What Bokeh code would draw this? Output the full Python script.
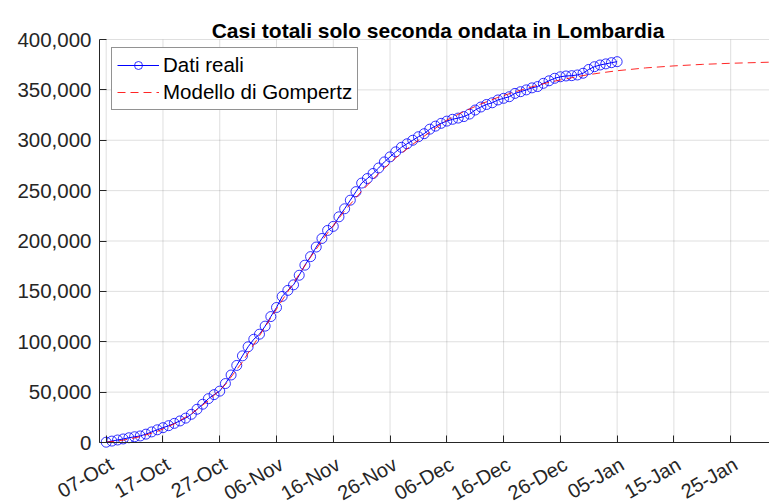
import math
from datetime import datetime, timedelta

from bokeh.plotting import figure
from bokeh.models import (ColumnDataSource, Range1d, FixedTicker, NumeralTickFormatter,
                          Legend, LegendItem, LabelSet, Label)
from bokeh.core.properties import value
from bokeh.embed import file_html
from bokeh.resources import INLINE

# ---------------- data ----------------
title_text = "Casi totali solo seconda ondata in Lombardia"
first_day = "2020-10-07"

# daily cumulative cases (07-Oct-2020 .. 05-Jan-2021)
real_cases = [
    300, 1400, 2500, 3500, 4700, 5700, 6500, 8300, 10500, 12600,
    14700, 16700, 19000, 21400, 24200, 28000, 33000, 38000, 43500, 47500,
    51000, 58500, 67000, 76500, 86000, 95000, 102500, 107500, 115500, 125000,
    134000, 145000, 151000, 156500, 166000, 176000, 184500, 194000, 202500, 210500,
    214500, 224000, 232000, 240500, 249000, 257500, 262000, 267000, 272500, 278500,
    283500, 288500, 293000, 296500, 300000, 303500, 306500, 311000, 314000, 316800,
    319000, 320800, 322000, 323500, 326000, 330000, 333000, 335500, 337200, 340000,
    341600, 343200, 346500, 348200, 350000, 352000, 353300, 356500, 359000, 361500,
    363000, 363800, 364100, 364800, 366500, 370300, 373000, 374700, 375800, 377000,
    378000,
]

# Gompertz model, sampled (days after 07-Oct)
model_days = [0, 3, 6, 9, 12, 15, 18, 21, 24, 27, 30, 33, 36, 39, 42, 45, 48, 51, 54, 57,
              60, 63, 66, 69, 72, 75, 78, 81, 84, 87, 90, 95, 100, 105, 110, 117]
model_cases = [300, 2300, 5800, 11000, 18500, 28500, 41500, 57500, 80000, 106000,
               132500, 158500, 184000, 208000, 230000, 249500, 267000, 282500, 296000, 308000,
               320000, 328500, 336000, 342500, 348000, 353000, 357500, 361000, 364200, 366800,
               369000, 371800, 373800, 375300, 376400, 377500]

x_tick_dates = ["2020-10-07", "2020-10-17", "2020-10-27", "2020-11-06", "2020-11-16",
                "2020-11-26", "2020-12-06", "2020-12-16", "2020-12-26", "2021-01-05",
                "2021-01-15", "2021-01-25"]
x_tick_labels = ["07-Oct", "17-Oct", "27-Oct", "06-Nov", "16-Nov", "26-Nov",
                 "06-Dec", "16-Dec", "26-Dec", "05-Jan", "15-Jan", "25-Jan"]
y_ticks = [0, 50000, 100000, 150000, 200000, 250000, 300000, 350000, 400000]

label_real = "Dati reali"
label_model = "Modello di Gompertz"

# ---------------- build ----------------
FONT = "Liberation Sans"
AXIS_COLOR = "#262626"
W, H = 769, 504
TOP, LEFT, BOTTOM = 39, 99, 62          # px around the data area

d0 = datetime.strptime(first_day, "%Y-%m-%d")
real_dates = [d0 + timedelta(days=i) for i in range(len(real_cases))]
model_dates = [d0 + timedelta(days=d) for d in model_days]
tick_dt = [datetime.strptime(t, "%Y-%m-%d") for t in x_tick_dates]

def ms(dt):
    return (dt - datetime(1970, 1, 1)).total_seconds() * 1000.0

# data area limits
xa = d0 - timedelta(days=1.18)
xb = d0 + timedelta(days=116.84)
y_lo, y_hi = y_ticks[0], y_ticks[-1]

# the frame covers the whole canvas, so every text (title, tick labels) is drawn inside it
x_full_start = xa - (xb - xa) * (LEFT / (W - LEFT))
ppu = (H - TOP - BOTTOM) / (y_hi - y_lo)
y_full_start = y_lo - BOTTOM / ppu
y_full_end = y_hi + TOP / ppu

src_real = ColumnDataSource(dict(date=real_dates, cases=real_cases))
src_model = ColumnDataSource(dict(date=model_dates, cases=model_cases))
src_ticks = ColumnDataSource(dict(date=tick_dt, y=[y_lo] * len(tick_dt), text=x_tick_labels,
                                  y1=[y_hi] * len(tick_dt)))
src_hgrid = ColumnDataSource(dict(y=y_ticks, x0=[xa] * len(y_ticks), x1=[xb] * len(y_ticks)))

p = figure(width=W, height=H, x_axis_type="datetime",
           output_backend="svg", toolbar_location=None,
           x_range=Range1d(x_full_start, xb), y_range=Range1d(y_full_start, y_full_end),
           min_border_left=0, min_border_right=0, min_border_top=0, min_border_bottom=0)

p.outline_line_color = None
p.background_fill_color = "white"
p.border_fill_color = "white"
p.title.text = ""
p.title.visible = False

# title
title_lbl = Label(x=ms(xa) + (ms(xb) - ms(xa)) / 2, y=y_hi, x_offset=3.5, y_offset=9,
                  text=title_text, text_align="center", text_baseline="alphabetic",
                  text_font=FONT, text_font_style="bold", text_font_size="21px",
                  text_color="black")
p.add_layout(title_lbl)

# grid lines only over the data area
p.xgrid.visible = False
p.ygrid.visible = False
p.segment(x0="date", y0="y", x1="date", y1="y1", source=src_ticks,
          line_color=AXIS_COLOR, line_alpha=0.15, line_width=1)
p.segment(x0="x0", y0="y", x1="x1", y1="y", source=src_hgrid,
          line_color=AXIS_COLOR, line_alpha=0.15, line_width=1)

tick_ms = [ms(t) for t in tick_dt]
xax = p.xaxis[0]
xax.ticker = FixedTicker(ticks=tick_ms)
xax.major_label_overrides = {t: "" for t in tick_ms}
xax.major_label_standoff = 0
xax.major_label_text_font_size = "0px"
xax.fixed_location = y_lo
xax.bounds = (ms(xa), ms(xb))

yax = p.yaxis[0]
yax.ticker = FixedTicker(ticks=y_ticks)
yax.formatter = NumeralTickFormatter(format="0,0")
yax.bounds = (y_lo, y_hi)
yax.fixed_location = ms(xa)
yax.major_label_standoff = 8
yax.major_label_text_font_size = "20.5px"

for ax in (xax, yax):
    ax.axis_line_color = AXIS_COLOR
    ax.axis_line_width = 1
    ax.major_tick_line_color = AXIS_COLOR
    ax.major_tick_in = 7
    ax.major_tick_out = 0
    ax.minor_tick_line_color = None
    ax.major_label_text_font = FONT
    ax.major_label_text_color = AXIS_COLOR

r_line = p.line(x="date", y="cases", source=src_real, line_color="blue", line_width=1)
r_pts = p.scatter(x="date", y="cases", source=src_real, marker="circle", size=10,
                  fill_color=None, line_color="blue", line_alpha=0.8, line_width=1)
r_model = p.line(x="date", y="cases", source=src_model, line_color="red",
                 line_width=1, line_alpha=0.85, line_dash="8 5")

# rotated date labels (MATLAB style)
xlabels = LabelSet(x="date", y="y", text="text", source=src_ticks,
                   x_offset=5, y_offset=-20, angle=math.pi / 6,
                   text_align="right", text_baseline="middle",
                   text_font=value(FONT), text_font_size=value("20px"),
                   text_color=AXIS_COLOR)
p.add_layout(xlabels)

legend = Legend(items=[LegendItem(label=label_real, renderers=[r_line, r_pts]),
                       LegendItem(label=label_model, renderers=[r_model])],
                location=(111, H - 110))
legend.border_line_color = AXIS_COLOR
legend.border_line_width = 1
legend.background_fill_color = "white"
legend.background_fill_alpha = 1
legend.label_text_font = FONT
legend.label_text_font_size = "20.5px"
legend.label_text_color = "black"
legend.glyph_width = 42
legend.glyph_height = 20
legend.label_height = 20
legend.spacing = 3
legend.padding = 5
legend.margin = 0
legend.label_standoff = 4
p.add_layout(legend)

open("out.html", "w").write(file_html(p, INLINE))
